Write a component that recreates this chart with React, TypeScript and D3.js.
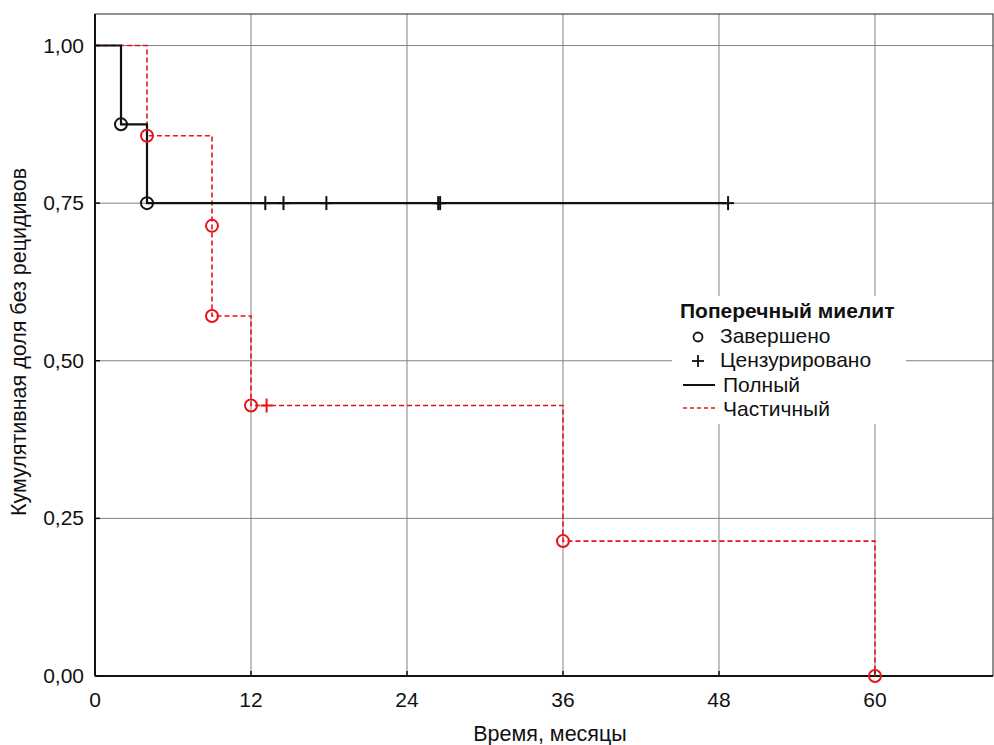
import * as d3 from "d3";

// Полный (черная линия)
const fullSteps: [number, number][] = [[0, 1], [2, 0.875], [4, 0.75], [48.7, 0.75]];
const fullEvents: [number, number][] = [[2, 0.875], [4, 0.75]];
const fullCensored: [number, number][] = [[13.1, 0.75], [14.5, 0.75], [17.8, 0.75], [26.4, 0.75], [26.55, 0.75], [48.7, 0.75]];

// Частичный (красная пунктирная)
const partSteps: [number, number][] = [[0, 1], [4, 0.857], [9, 0.571], [12, 0.429], [36, 0.214], [60, 0]];
const partEvents: [number, number][] = [[4, 0.857], [9, 0.714], [9, 0.571], [12, 0.429], [36, 0.214], [60, 0]];
const partCensored: [number, number][] = [[13.2, 0.429]];

const xTicks = [0, 12, 24, 36, 48, 60];
const yTicks = [0, 0.25, 0.5, 0.75, 1];

const RED = "#e8141b";
const FONT = "'Liberation Sans', Arial, sans-serif";

export default function App() {
  const W = 994, H = 745;
  const left = 95, right = 993, top = 14, bottom = 676;

  const x = d3.scaleLinear().domain([0, 69.08]).range([left, right]);
  const y = d3.scaleLinear().domain([0, 1.05]).range([bottom, top]);
  const fmt = (v: number) => d3.format(".2f")(v).replace(".", ",");

  const step = d3.line<[number, number]>()
    .x(d => x(d[0]))
    .y(d => y(d[1]))
    .curve(d3.curveStepAfter);

  const lgX = 672, lgY = 296;

  return (
    <div style={{ position: "absolute", left: 0, top: 0 }}>
      <svg width={W} height={H} style={{ display: "block", fontFamily: FONT }}>
        <rect width={W} height={H} fill="white" />
        {/* сетка */}
        {xTicks.filter(t => t > 0).map(t => (
          <line key={"gx" + t} x1={x(t)} x2={x(t)} y1={top} y2={bottom} stroke="#808080" strokeWidth={1} />
        ))}
        {yTicks.filter(t => t > 0).map(t => (
          <line key={"gy" + t} x1={left} x2={right} y1={y(t)} y2={y(t)} stroke="#808080" strokeWidth={1} />
        ))}
        {/* рамка */}
        <rect x={left} y={top} width={right - left} height={bottom - top} fill="none" stroke="#222" strokeWidth={1} />
        <line x1={left} x2={left} y1={top} y2={bottom} stroke="#111" strokeWidth={2} />
        <line x1={left} x2={right} y1={bottom} y2={bottom} stroke="#111" strokeWidth={2} />
        {/* деления */}
        {yTicks.map(t => (
          <g key={"ty" + t}>
            <line x1={left} x2={left + 5} y1={y(t)} y2={y(t)} stroke="#111" strokeWidth={1.5} />
            <text x={left - 11} y={y(t) + 7} fontSize={21} textAnchor="end" fill="#111">{fmt(t)}</text>
          </g>
        ))}
        {xTicks.map(t => (
          <g key={"tx" + t}>
            <line x1={x(t)} x2={x(t)} y1={bottom} y2={bottom - 5} stroke="#111" strokeWidth={1.5} />
            <text x={x(t)} y={bottom + 31} fontSize={21} textAnchor="middle" fill="#111">{t}</text>
          </g>
        ))}
        <text x={550} y={741} fontSize={21.5} textAnchor="middle" fill="#111">Время, месяцы</text>
        <text transform={`translate(26,342) rotate(-90)`} fontSize={21.5} textAnchor="middle" fill="#111">
          Кумулятивная доля без рецидивов
        </text>

        {/* кривые */}
        <path d={step(partSteps) || ""} fill="none" stroke={RED} strokeWidth={1.6} strokeDasharray="5,3" />
        <path d={step(fullSteps) || ""} fill="none" stroke="#111" strokeWidth={2.2} />

        {fullEvents.map((d, i) => (
          <circle key={"fe" + i} cx={x(d[0])} cy={y(d[1])} r={6} fill="none" stroke="#111" strokeWidth={2} />
        ))}
        {partEvents.map((d, i) => (
          <circle key={"pe" + i} cx={x(d[0])} cy={y(d[1])} r={6} fill="none" stroke={RED} strokeWidth={2} />
        ))}
        {fullCensored.map((d, i) => (
          <g key={"fc" + i} stroke="#111" strokeWidth={2}>
            <line x1={x(d[0])} x2={x(d[0])} y1={y(d[1]) - 7} y2={y(d[1]) + 7} />
            <line x1={x(d[0]) - 6} x2={x(d[0]) + 6} y1={y(d[1])} y2={y(d[1])} />
          </g>
        ))}
        {partCensored.map((d, i) => (
          <g key={"pc" + i} stroke={RED} strokeWidth={2}>
            <line x1={x(d[0])} x2={x(d[0])} y1={y(d[1]) - 7} y2={y(d[1]) + 7} />
            <line x1={x(d[0]) - 6} x2={x(d[0]) + 6} y1={y(d[1])} y2={y(d[1])} />
          </g>
        ))}

        {/* легенда */}
        <rect x={lgX} y={lgY} width={234} height={128} fill="white" />
        <text x={680} y={318} fontSize={21} fontWeight="bold" fill="#111">Поперечный миелит</text>
        <circle cx={698} cy={337} r={4.5} fill="none" stroke="#111" strokeWidth={1.8} />
        <text x={720} y={343} fontSize={21} fill="#111">Завершено</text>
        <line x1={692} x2={704} y1={361} y2={361} stroke="#111" strokeWidth={1.8} />
        <line x1={698} x2={698} y1={355} y2={367} stroke="#111" strokeWidth={1.8} />
        <text x={720} y={367} fontSize={21} fill="#111">Цензурировано</text>
        <line x1={683} x2={715} y1={385} y2={385} stroke="#111" strokeWidth={2} />
        <text x={723} y={392} fontSize={21} fill="#111">Полный</text>
        <line x1={683} x2={715} y1={408} y2={408} stroke={RED} strokeWidth={1.6} strokeDasharray="4,3" />
        <text x={723} y={416} fontSize={21} fill="#111">Частичный</text>
      </svg>
    </div>
  );
}
